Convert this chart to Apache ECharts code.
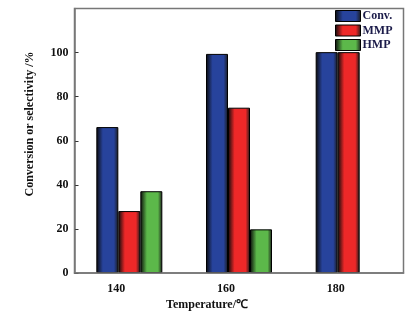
<!DOCTYPE html>
<html><head><meta charset="utf-8">
<script src="https://cdn.jsdelivr.net/npm/echarts@6/dist/echarts.min.js"></script>
<style>html,body{margin:0;padding:0;background:#fff}#c{width:410px;height:323px}</style>
</head><body><div id="c"></div>
<script>
const categories = ['140', '160', '180'];
const seriesNames = ['Conv.', 'MMP', 'HMP'];
const conv = [66.2, 99.4, 100.2];
const mmp = [28.1, 75.0, 100.2];
const hmp = [37.1, 19.8, null];
const yTicks = [0, 20, 40, 60, 80, 100];

function grad(c) {
  return new echarts.graphic.LinearGradient(0, 0, 1, 0, [
    {offset: 0, color: '#0a0a0a'},
    {offset: 0.3, color: c},
    {offset: 0.8, color: c},
    {offset: 1, color: '#1a1a1a'}
  ]);
}
const colors = ['#27439c', '#ee2828', '#5cb84a'];
const font = '"Liberation Serif", "Times New Roman", serif';
const chart = echarts.init(document.getElementById('c'));
const vals = [conv, mmp, hmp];
chart.setOption({
  animation: false,
  grid: {left: 74.5, right: 6.5, top: 8.5, bottom: 50, containLabel: false},
  legend: {
    left: 330, top: 5, orient: 'vertical', itemWidth: 25, itemHeight: 11, itemGap: 2.5,
    align: 'left', icon: 'rect',
    textStyle: {fontFamily: font, fontWeight: 'bold', fontSize: 12, lineHeight: 11, color: '#1c1c4a', padding: [0, 0, 0, -3]},
    data: seriesNames.map((n, i) => ({name: n, itemStyle: {color: grad(colors[i]), borderColor: '#000', borderWidth: 1}}))
  },
  xAxis: {
    type: 'category', data: categories,
    axisLine: {lineStyle: {color: '#777', width: 1.5}},
    axisTick: {show: false},
    axisLabel: {fontFamily: font, fontWeight: 'bold', fontSize: 12, color: '#111', margin: 10, padding: [0, 26, 0, 0]}
  },
  yAxis: {
    type: 'value', min: 0, max: 120, interval: 20,
    axisLine: {show: true, lineStyle: {color: '#777', width: 1.5}},
    axisTick: {show: true, inside: true, length: 4, lineStyle: {color: '#333'}},
    splitLine: {show: false},
    axisLabel: {fontFamily: font, fontWeight: 'bold', fontSize: 12, color: '#111', margin: 6,
      formatter: v => yTicks.indexOf(v) >= 0 ? String(v) : ''}
  },
  graphic: [
    {type: 'rect', shape: {x: 74.5, y: 8.5, width: 329, height: 264.5}, style: {fill: 'none', stroke: '#777', lineWidth: 1.5}, silent: true, z: 10},
    {type: 'text', x: 30, y: 124, rotation: Math.PI / 2, style: {text: 'Conversion or selectivity /%', fontFamily: font, fontWeight: 'bold', fontSize: 12, fill: '#111', textAlign: 'center', textVerticalAlign: 'middle'}},
    {type: 'text', x: 207, y: 305, style: {text: 'Temperature/℃', fontFamily: font, fontWeight: 'bold', fontSize: 12, fill: '#111', textAlign: 'center', textVerticalAlign: 'middle'}}
  ],
  series: seriesNames.map((n, i) => ({
    name: n, type: 'bar', data: vals[i], barWidth: 22, barGap: '0%',
    itemStyle: {color: grad(colors[i]), borderColor: '#000', borderWidth: 1}
  }))
});
</script></body></html>
